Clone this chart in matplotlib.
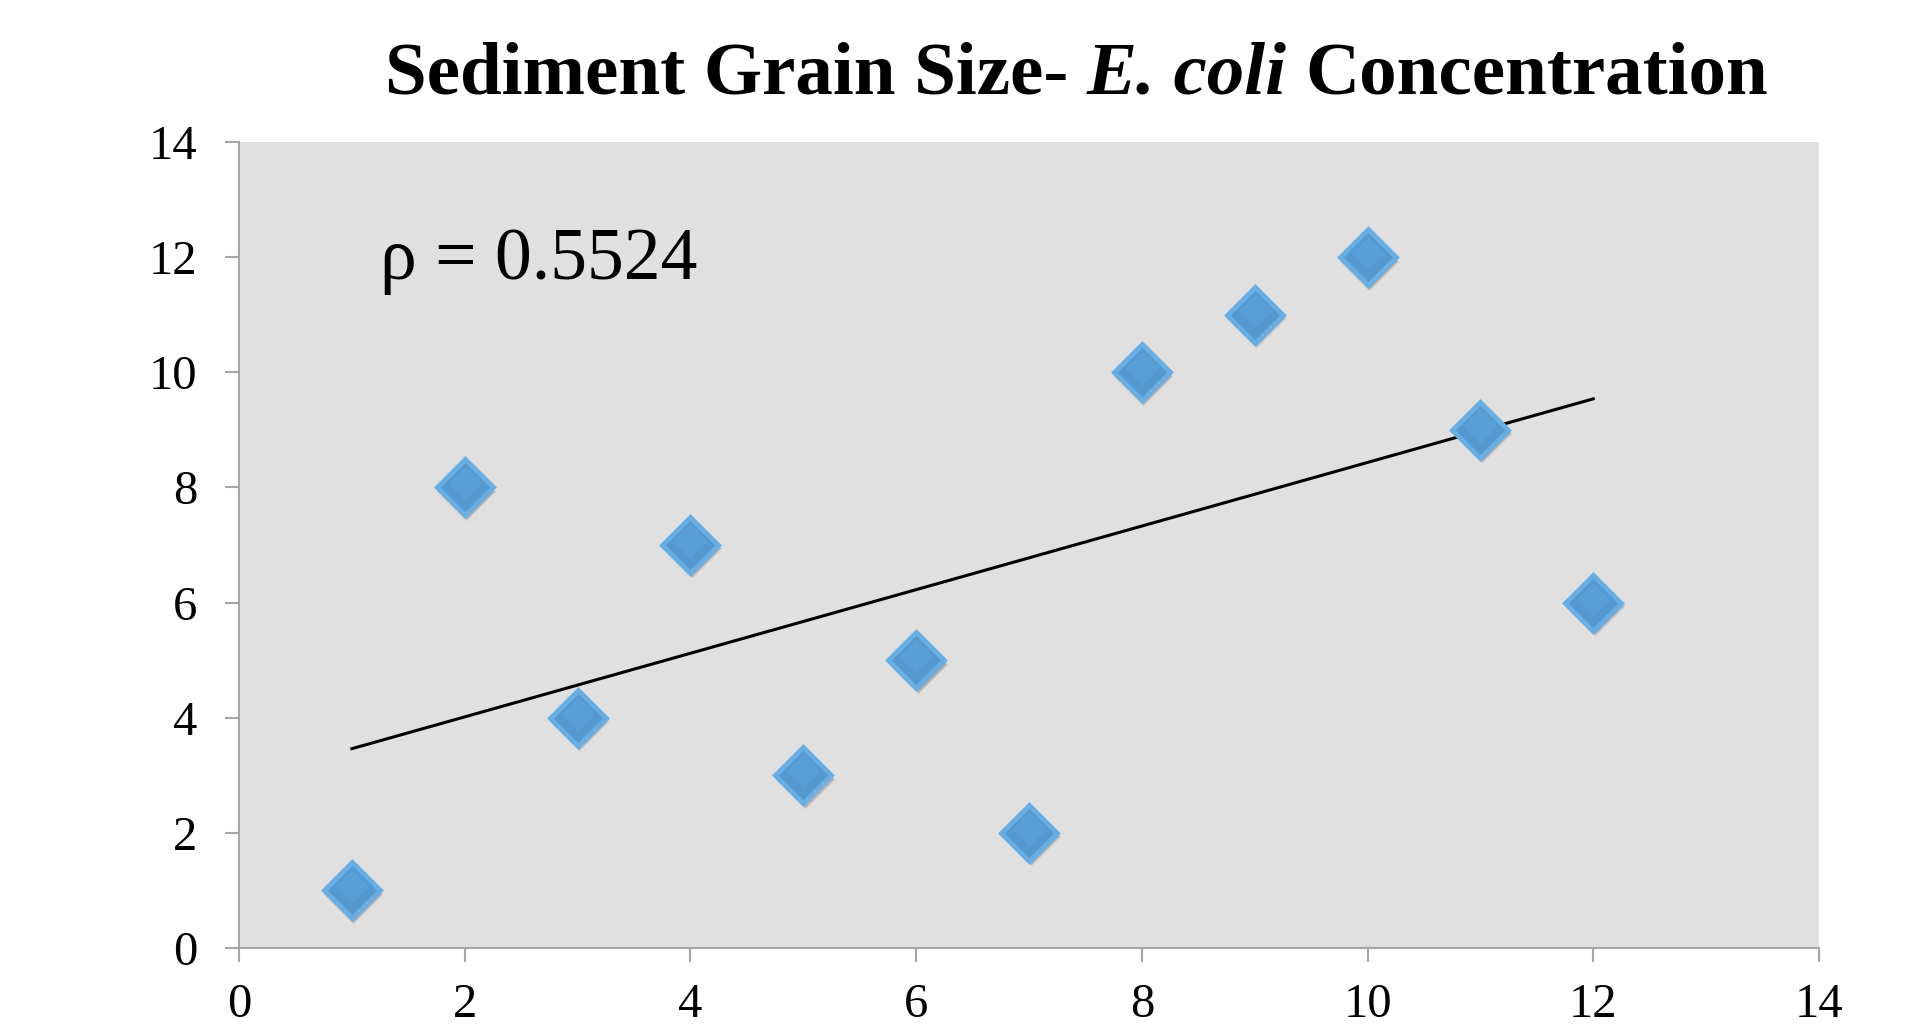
import matplotlib.pyplot as plt
import matplotlib.transforms as mtransforms
import numpy as np

# grain size rank vs E. coli rank
grain = np.array([1, 2, 3, 4, 5, 6, 7, 8, 9, 10, 11, 12])
ecoli = np.array([1, 8, 4, 7, 3, 5, 2, 10, 11, 12, 9, 6])
rho_label = 'ρ = 0.5524'
ticks = [0, 2, 4, 6, 8, 10, 12, 14]

serif = ['Liberation Serif', 'DejaVu Serif']

fig = plt.figure(figsize=(19.18, 10.34), dpi=100)
ax = fig.add_axes([0.1246, 0.0832, 0.8238, 0.7795])
ax.set_facecolor('#e0e0e0')

# trend line from least squares fit
k, b = np.polyfit(grain, ecoli, 1)
xl = np.array([grain.min(), grain.max()])
ax.plot(xl, k * xl + b, color='black', lw=2.2, zorder=2)

# soft shadow under the diamonds
for i, a in enumerate([0.06, 0.08, 0.10]):
    sh = mtransforms.offset_copy(ax.transData, fig=fig, x=1.5, y=-3.5, units='dots')
    ax.plot(grain, ecoli, 'D', ms=31 - i * 1.2, mfc='black', mec='none',
            alpha=a, transform=sh, zorder=3)

ax.plot(grain, ecoli, 'D', ms=29, mfc='#5498d1', mec='#69aee3', mew=3.5, zorder=4)
# lighter upper part to hint at the gradient
up = mtransforms.offset_copy(ax.transData, fig=fig, x=0, y=4, units='dots')
ax.plot(grain, ecoli, 'D', ms=17, mfc='#5aa5df', mec='none', alpha=0.6,
        transform=up, zorder=5)

ax.text(1.25, 11.62, rho_label, fontsize=53, family=serif, ha='left', va='baseline')

ax.set_xlim(0, 14)
ax.set_ylim(0, 14)
ax.set_xticks(ticks)
ax.set_yticks(ticks)
for s in ['top', 'right']:
    ax.spines[s].set_visible(False)
for s in ['left', 'bottom']:
    ax.spines[s].set_color('#a6a6a6')
    ax.spines[s].set_linewidth(1.5)
ax.tick_params(axis='both', direction='out', length=10, width=1.5, color='#a6a6a6',
               labelsize=35)
ax.tick_params(axis='y', pad=20)
ax.tick_params(axis='x', pad=15)
for lab in ax.get_xticklabels() + ax.get_yticklabels():
    lab.set_family(serif)

# title in three pieces so "E. coli" can be italic
parts = [('Sediment Grain Size-', 'normal'), ('E. coli', 'italic'), ('Concentration', 'normal')]
r = fig.canvas.get_renderer()
fs = 54
texts = [fig.text(0, 0.910, t, fontsize=fs, family=serif, weight='bold', style=st,
                  va='baseline', ha='left') for t, st in parts]
probe1 = fig.text(0, 0, 'x x', fontsize=fs, family=serif, weight='bold')
probe2 = fig.text(0, 0, 'xx', fontsize=fs, family=serif, weight='bold')
space = probe1.get_window_extent(r).width - probe2.get_window_extent(r).width
probe1.remove()
probe2.remove()
widths = [t.get_window_extent(r).width for t in texts]
total = sum(widths) + space * (len(texts) - 1)
x = 1076.5 - total / 2
for t, w in zip(texts, widths):
    t.set_x(x / fig.bbox.width)
    x += w + space

fig.savefig('out.png', dpi=100)
